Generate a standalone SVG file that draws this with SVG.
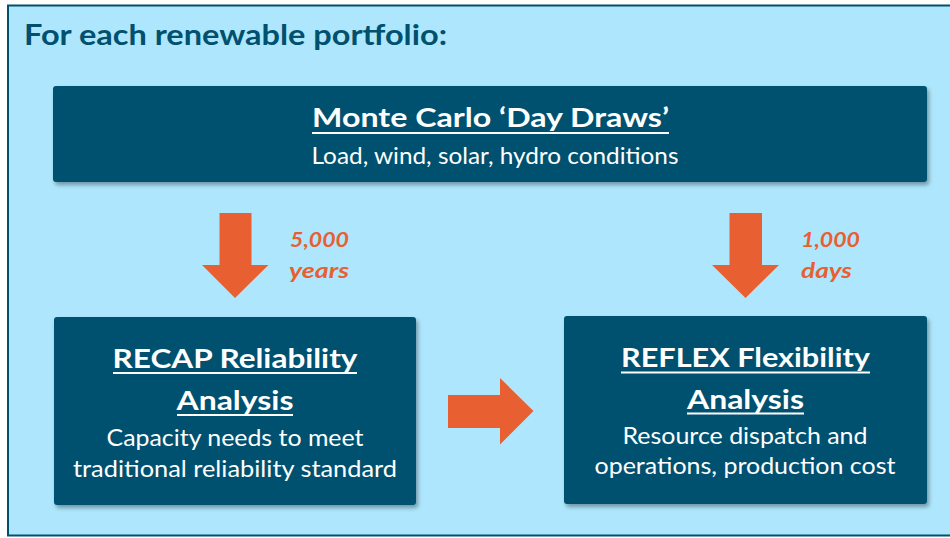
<svg xmlns="http://www.w3.org/2000/svg" width="950" height="538" viewBox="0 0 950 538">
  <defs>
    <filter id="shadow" x="-5%" y="-10%" width="115%" height="130%">
      <feDropShadow dx="2" dy="3" stdDeviation="2" flood-color="#000" flood-opacity="0.35"/>
    </filter>
    <style>
      .panel { fill: #aee7fd; stroke: #01506e; stroke-width: 2; }
      .box { fill: #01516f; filter: url(#shadow); }
      .head { font-family: Lato, "Open Sans", "Liberation Sans", sans-serif; font-weight: bold; fill: #ffffff; }
      .body { font-family: Lato, "Open Sans", "Liberation Sans", sans-serif; fill: #ffffff; }
      .rule { stroke: #ffffff; stroke-width: 2; }
      .title { font-family: Lato, "Open Sans", "Liberation Sans", sans-serif; font-weight: bold; fill: #01506e; }
      .arrow { fill: #e86032; }
      .count { font-family: Lato, "Open Sans", "Liberation Sans", sans-serif; font-weight: bold; font-style: italic; fill: #e86032; }
    </style>
  </defs>

  <!-- outer panel -->
  <rect class="panel" x="8" y="5.5" width="950" height="530"/>

  <g id="title">
    <text class="title" x="24" y="45" font-size="28" textLength="423" lengthAdjust="spacingAndGlyphs">For each renewable portfolio:</text>
  </g>

  <g id="node-monte-carlo">
    <rect class="box" x="53" y="86" width="874" height="96" rx="3"/>
    <text class="head" x="490.5" y="126.5" font-size="27" text-anchor="middle" textLength="357" lengthAdjust="spacingAndGlyphs">Monte Carlo ‘Day Draws’</text>
    <line class="rule" x1="312" y1="133" x2="669" y2="133"/>
    <text class="body" x="495" y="164" font-size="23" text-anchor="middle" textLength="367" lengthAdjust="spacingAndGlyphs">Load, wind, solar, hydro conditions</text>
  </g>

  <g id="node-recap">
    <rect class="box" x="54" y="317" width="362" height="188" rx="3"/>
    <text class="head" x="235" y="368" font-size="26" text-anchor="middle" textLength="245" lengthAdjust="spacingAndGlyphs">RECAP Reliability</text>
    <line class="rule" x1="113" y1="373" x2="357" y2="373"/>
    <text class="head" x="235" y="410" font-size="26" text-anchor="middle" textLength="117" lengthAdjust="spacingAndGlyphs">Analysis</text>
    <line class="rule" x1="177" y1="415" x2="293" y2="415"/>
    <text class="body" x="235" y="446" font-size="23" text-anchor="middle" textLength="257" lengthAdjust="spacingAndGlyphs">Capacity needs to meet</text>
    <text class="body" x="235" y="477" font-size="23" text-anchor="middle" textLength="324" lengthAdjust="spacingAndGlyphs">traditional reliability standard</text>
  </g>

  <g id="node-reflex">
    <rect class="box" x="564" y="316" width="363" height="188" rx="3"/>
    <text class="head" x="745.5" y="367" font-size="26" text-anchor="middle" textLength="249" lengthAdjust="spacingAndGlyphs">REFLEX Flexibility</text>
    <line class="rule" x1="621" y1="372.5" x2="870" y2="372.5"/>
    <text class="head" x="745.5" y="408.5" font-size="26" text-anchor="middle" textLength="117" lengthAdjust="spacingAndGlyphs">Analysis</text>
    <line class="rule" x1="687" y1="413.5" x2="804" y2="413.5"/>
    <text class="body" x="745" y="443.5" font-size="23" text-anchor="middle" textLength="245" lengthAdjust="spacingAndGlyphs">Resource dispatch and</text>
    <text class="body" x="745" y="474" font-size="23" text-anchor="middle" textLength="301" lengthAdjust="spacingAndGlyphs">operations, production cost</text>
  </g>

  <g id="connectors">
    <!-- Monte Carlo to RECAP -->
    <polygon class="arrow" points="219.5,213 251.5,213 251.5,265 268.5,265 235,298 202,265 219.5,265"/>
    <text class="count" x="290" y="247" font-size="21" textLength="59" lengthAdjust="spacingAndGlyphs">5,000</text>
    <text class="count" x="289" y="278" font-size="21" textLength="60" lengthAdjust="spacingAndGlyphs">years</text>
    <!-- Monte Carlo to REFLEX -->
    <polygon class="arrow" points="729.5,213 762,213 762,265 779,265 745.5,298 712,265 729.5,265"/>
    <text class="count" x="801" y="247" font-size="21" textLength="59" lengthAdjust="spacingAndGlyphs">1,000</text>
    <text class="count" x="801" y="278" font-size="21" textLength="51" lengthAdjust="spacingAndGlyphs">days</text>
    <!-- RECAP to REFLEX -->
    <polygon class="arrow" points="448,395 500,395 500,378 533.5,411 500,444.5 500,428 448,428"/>
  </g>
</svg>
